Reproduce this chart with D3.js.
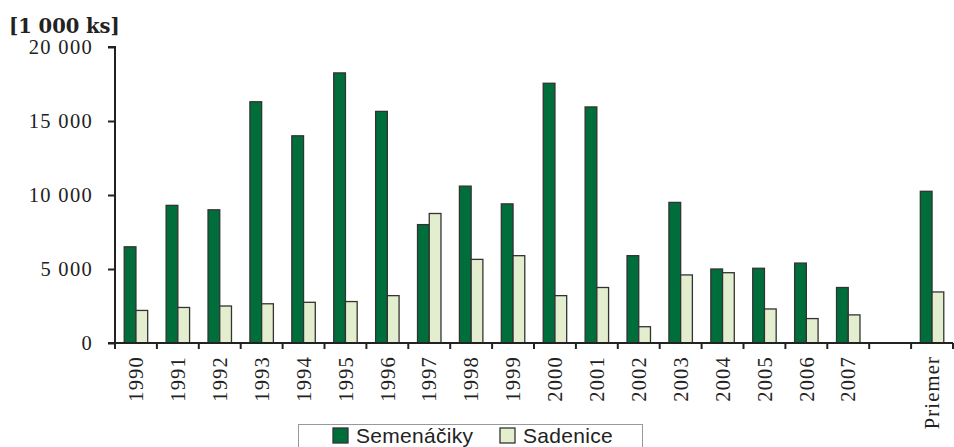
<!DOCTYPE html>
<html><head><meta charset="utf-8">
<script src="https://cdn.jsdelivr.net/npm/d3@7"></script>
<style>body{margin:0;background:#fff}</style>
</head><body>
<svg id="c" width="954" height="447"></svg>
<script>
const categories = ["1990","1991","1992","1993","1994","1995","1996","1997","1998","1999","2000","2001","2002","2003","2004","2005","2006","2007","","Priemer"];
const semenaciky = [6500,9300,9000,16300,14000,18250,15650,8000,10600,9400,17550,15950,5900,9500,5000,5050,5400,3750,null,10250];
const sadenice   = [2200,2400,2500,2650,2750,2800,3200,8750,5650,5900,3200,3750,1100,4600,4750,2300,1650,1900,null,3450];
const seriesNames = ["Semenáčiky","Sadenice"];
const yTicks = [0,5000,10000,15000,20000];
const unitLabel = "[1 000 ks]";

(function(){
const colors = ["#006e3b","#e3eece"];
const svg = d3.select("#c");
const mL = 115, mR = 953, mT = 47, mB = 343;
const y = d3.scaleLinear().domain([0,20000]).range([mB, mT]);
const x = d3.scaleBand().domain(d3.range(categories.length)).range([mL, mR]).padding(0);
const x1 = d3.scaleBand().domain([0,1]).range([x.bandwidth()*0.22, x.bandwidth()*0.78]).padding(0);
const serif = "Liberation Serif";
const fmt = v => d3.format(",")(v).replace(/,/g, " ");

// bars
const data = categories.map((c,i)=>({i, vals:[semenaciky[i], sadenice[i]]}));
const g = svg.append("g");
data.forEach(d=>{
  d.vals.forEach((v,k)=>{
    if (v==null) return;
    g.append("rect")
      .attr("x", x(d.i)+x1(k)).attr("y", y(v))
      .attr("width", x1.bandwidth()).attr("height", y(0)-y(v))
      .attr("fill", colors[k]).attr("stroke","#333").attr("stroke-width",1.3);
  });
});

// y axis
const yAxis = svg.append("g").attr("transform",`translate(${mL},0)`)
  .call(d3.axisLeft(y).tickValues(yTicks).tickSize(7).tickPadding(15).tickFormat(v=>fmt(v)));
yAxis.select(".domain").attr("stroke","#222").attr("stroke-width",2).attr("d",`M-7,${mT}H0V${mB}`);
yAxis.selectAll(".tick line").attr("stroke","#222").attr("stroke-width",2);
yAxis.selectAll("text").attr("font-family",serif).attr("font-size",20.5).attr("letter-spacing","1.3px").attr("fill","#222");

// x axis
const xg = svg.append("g");
xg.append("line").attr("x1",mL-7).attr("x2",mR).attr("y1",mB).attr("y2",mB).attr("stroke","#222").attr("stroke-width",2);
d3.range(categories.length+1).forEach(i=>{
  const xx = i<categories.length ? x(i) : mR;
  xg.append("line").attr("x1",xx).attr("x2",xx).attr("y1",mB).attr("y2",mB+6).attr("stroke","#222").attr("stroke-width",2);
});
categories.forEach((c,i)=>{
  xg.append("text").text(c)
    .attr("transform",`translate(${x(i)+x.bandwidth()/2},${mB+13}) rotate(-90)`)
    .attr("text-anchor","end").attr("dy","0.35em")
    .attr("font-family",serif).attr("font-size",20.5).attr("letter-spacing","1.2px").attr("fill","#222");
});

// unit label
svg.append("text").text(unitLabel).attr("x",9).attr("y",33)
  .attr("font-family","DejaVu Serif").attr("font-weight","bold").attr("font-size",19.5).attr("fill","#222");

// legend
const lg = svg.append("g");
lg.append("rect").attr("x",298.5).attr("y",424.5).attr("width",344).attr("height",30).attr("fill","#fff").attr("stroke","#999").attr("stroke-width",1);
const legX = [333, 500];
seriesNames.forEach((s,k)=>{
  lg.append("rect").attr("x",legX[k]).attr("y",428).attr("width",15).attr("height",15)
    .attr("fill",colors[k]).attr("stroke","#333").attr("stroke-width",1.3);
  lg.append("text").text(s).attr("x",legX[k]+23).attr("y",443)
    .attr("font-family","Liberation Sans").attr("font-size",21).attr("letter-spacing","0.3px").attr("fill","#222");
});
})();
</script>
</body></html>
